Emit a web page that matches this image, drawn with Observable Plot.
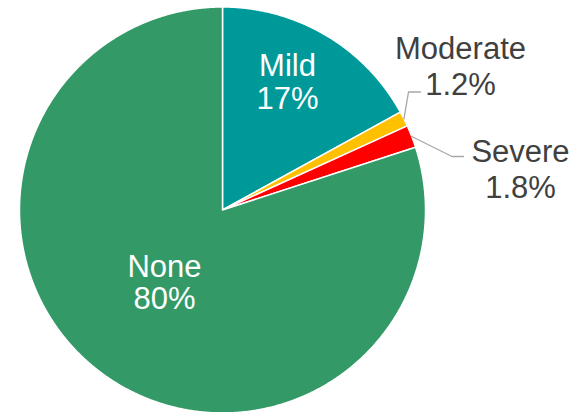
<!DOCTYPE html>
<html><head><meta charset="utf-8">
<script src="https://cdn.jsdelivr.net/npm/d3@7"></script>
<script src="https://cdn.jsdelivr.net/npm/@observablehq/plot@0.6"></script>
<style>html,body{margin:0;padding:0;background:#fff} #chart svg{display:block}</style>
</head><body><div id="chart"></div>
<script>
// ---- data ----
const categories = ["Mild", "Moderate", "Severe", "None"];
const values = [17, 1.2, 1.8, 80];
const valueLabels = ["17%", "1.2%", "1.8%", "80%"];
const colors = ["#009999", "#FFC000", "#FF0000", "#339966"];

// ---- layout (pixels) ----
const W = 573, H = 412, CX = 222, CY = 209.5, R = 203;
const FS = 31;
const labelLayout = {
  Mild:     {x: 287,   y: 51.5,  inside: true,  gap: 33.3},
  Moderate: {x: 460,   y: 33,    inside: false, gap: 35.7},
  Severe:   {x: 520,   y: 135.5, inside: false, gap: 36},
  None:     {x: 164,   y: 253,   inside: true,  gap: 32.4}
};
const leaderLayout = {
  Moderate: {elbow: [408, 91.5], end: [420, 91.5]},
  Severe:   {elbow: [451.5, 156], end: [463, 156]}
};
const ux = px => (px - CX) / R;
const uy = py => (CY - py) / R;

// ---- geometry from values ----
const arcs = d3.pie().sort(null).value(d => d)(values);
const slicePts = [];
arcs.forEach((a, i) => {
  const cat = categories[i];
  slicePts.push({cat, x: 0, y: 0});
  const n = Math.max(2, Math.ceil((a.endAngle - a.startAngle) / 0.005));
  for (let k = 0; k <= n; k++) {
    const t = a.startAngle + (a.endAngle - a.startAngle) * k / n;
    slicePts.push({cat, x: Math.sin(t), y: Math.cos(t)});
  }
});

const leaderPts = [];
arcs.forEach((a, i) => {
  const cat = categories[i];
  const L = leaderLayout[cat];
  if (!L) return;
  const m = (a.startAngle + a.endAngle) / 2;
  leaderPts.push({cat, x: Math.sin(m), y: Math.cos(m)});
  leaderPts.push({cat, x: ux(L.elbow[0]), y: uy(L.elbow[1])});
  leaderPts.push({cat, x: ux(L.end[0]), y: uy(L.end[1])});
});

const labels = categories.map((c, i) => ({
  cat: c,
  text: c + "\n" + valueLabels[i],
  x: ux(labelLayout[c].x),
  y: uy(labelLayout[c].y),
  inside: labelLayout[c].inside,
  lh: labelLayout[c].gap / FS
}));

const font = "'Liberation Sans', Arial, Helvetica, sans-serif";
const textMarks = labels.map(d => Plot.text([d], {
  x: "x", y: "y", text: "text",
  fill: d.inside ? "#ffffff" : "#404040",
  fontSize: FS, fontFamily: font,
  textAnchor: "middle", lineAnchor: "top", lineHeight: d.lh
}));

const chart = Plot.plot({
  width: W, height: H,
  marginTop: 0, marginRight: 0, marginBottom: 0, marginLeft: 0,
  x: {domain: [ux(0), ux(W)], range: [0, W], axis: null},
  y: {domain: [uy(H), uy(0)], range: [H, 0], axis: null},
  color: {domain: categories, range: colors},
  style: {background: "#fff"},
  marks: [
    Plot.line(slicePts, {x: "x", y: "y", z: "cat", fill: "cat", stroke: "#ffffff", strokeWidth: 1.5, strokeLinejoin: "round", curve: "linear-closed"}),
    Plot.line(leaderPts, {x: "x", y: "y", z: "cat", stroke: "#A6A6A6", strokeWidth: 1.3}),
    ...textMarks
  ]
});
document.getElementById("chart").append(chart);
</script>
</body></html>
